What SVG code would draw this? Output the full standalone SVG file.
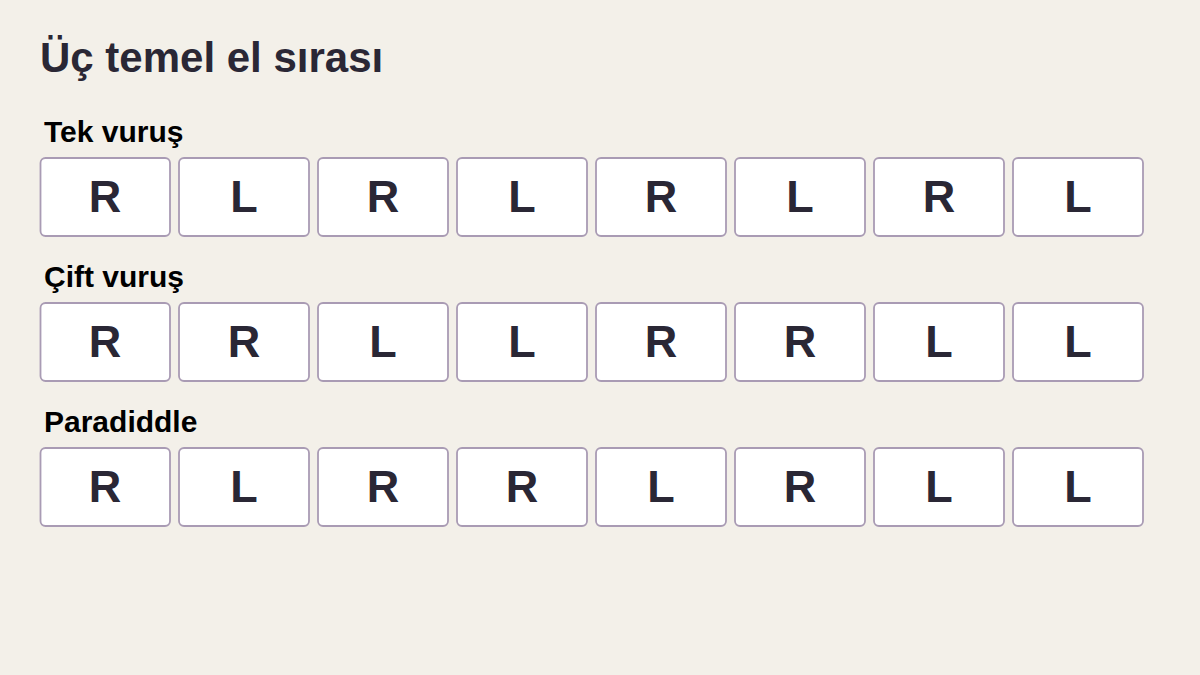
<svg xmlns="http://www.w3.org/2000/svg" width="1200" height="675" viewBox="0 0 1200 675">
<style>
.bg{fill:#f3f0e9}
.title{font-family:"Liberation Sans",Arial,sans-serif;font-weight:bold;font-size:42px;fill:#2a2735}
.lbl{font-family:"Liberation Sans",Arial,sans-serif;font-weight:bold;font-size:30px;fill:#000}
.box{fill:#ffffff;stroke:#a99bb4;stroke-width:1.8}
.hand{font-family:"Liberation Sans",Arial,sans-serif;font-weight:bold;font-size:45px;fill:#2a2735;text-anchor:middle}
</style>
<rect class="bg" x="0" y="0" width="1200" height="675"/>
<text class="title" x="40" y="72">Üç temel el sırası</text>
<g id="row1">
<text class="lbl" x="44" y="142">Tek vuruş</text>
<g id="r1c1"><rect class="box" x="40.5" y="158" width="129.5" height="78" rx="5"/><text class="hand" x="105" y="212">R</text></g>
<g id="r1c2"><rect class="box" x="179" y="158" width="130" height="78" rx="5"/><text class="hand" x="244" y="212">L</text></g>
<g id="r1c3"><rect class="box" x="318" y="158" width="130" height="78" rx="5"/><text class="hand" x="383" y="212">R</text></g>
<g id="r1c4"><rect class="box" x="457" y="158" width="130" height="78" rx="5"/><text class="hand" x="522" y="212">L</text></g>
<g id="r1c5"><rect class="box" x="596" y="158" width="130" height="78" rx="5"/><text class="hand" x="661" y="212">R</text></g>
<g id="r1c6"><rect class="box" x="735" y="158" width="130" height="78" rx="5"/><text class="hand" x="800" y="212">L</text></g>
<g id="r1c7"><rect class="box" x="874" y="158" width="130" height="78" rx="5"/><text class="hand" x="939" y="212">R</text></g>
<g id="r1c8"><rect class="box" x="1013" y="158" width="130" height="78" rx="5"/><text class="hand" x="1078" y="212">L</text></g>
</g>
<g id="row2">
<text class="lbl" x="44" y="287">Çift vuruş</text>
<g id="r2c1"><rect class="box" x="40.5" y="303" width="129.5" height="78" rx="5"/><text class="hand" x="105" y="357">R</text></g>
<g id="r2c2"><rect class="box" x="179" y="303" width="130" height="78" rx="5"/><text class="hand" x="244" y="357">R</text></g>
<g id="r2c3"><rect class="box" x="318" y="303" width="130" height="78" rx="5"/><text class="hand" x="383" y="357">L</text></g>
<g id="r2c4"><rect class="box" x="457" y="303" width="130" height="78" rx="5"/><text class="hand" x="522" y="357">L</text></g>
<g id="r2c5"><rect class="box" x="596" y="303" width="130" height="78" rx="5"/><text class="hand" x="661" y="357">R</text></g>
<g id="r2c6"><rect class="box" x="735" y="303" width="130" height="78" rx="5"/><text class="hand" x="800" y="357">R</text></g>
<g id="r2c7"><rect class="box" x="874" y="303" width="130" height="78" rx="5"/><text class="hand" x="939" y="357">L</text></g>
<g id="r2c8"><rect class="box" x="1013" y="303" width="130" height="78" rx="5"/><text class="hand" x="1078" y="357">L</text></g>
</g>
<g id="row3">
<text class="lbl" x="44" y="432">Paradiddle</text>
<g id="r3c1"><rect class="box" x="40.5" y="448" width="129.5" height="78" rx="5"/><text class="hand" x="105" y="502">R</text></g>
<g id="r3c2"><rect class="box" x="179" y="448" width="130" height="78" rx="5"/><text class="hand" x="244" y="502">L</text></g>
<g id="r3c3"><rect class="box" x="318" y="448" width="130" height="78" rx="5"/><text class="hand" x="383" y="502">R</text></g>
<g id="r3c4"><rect class="box" x="457" y="448" width="130" height="78" rx="5"/><text class="hand" x="522" y="502">R</text></g>
<g id="r3c5"><rect class="box" x="596" y="448" width="130" height="78" rx="5"/><text class="hand" x="661" y="502">L</text></g>
<g id="r3c6"><rect class="box" x="735" y="448" width="130" height="78" rx="5"/><text class="hand" x="800" y="502">R</text></g>
<g id="r3c7"><rect class="box" x="874" y="448" width="130" height="78" rx="5"/><text class="hand" x="939" y="502">L</text></g>
<g id="r3c8"><rect class="box" x="1013" y="448" width="130" height="78" rx="5"/><text class="hand" x="1078" y="502">L</text></g>
</g>
<g id="connectors"/>
</svg>
